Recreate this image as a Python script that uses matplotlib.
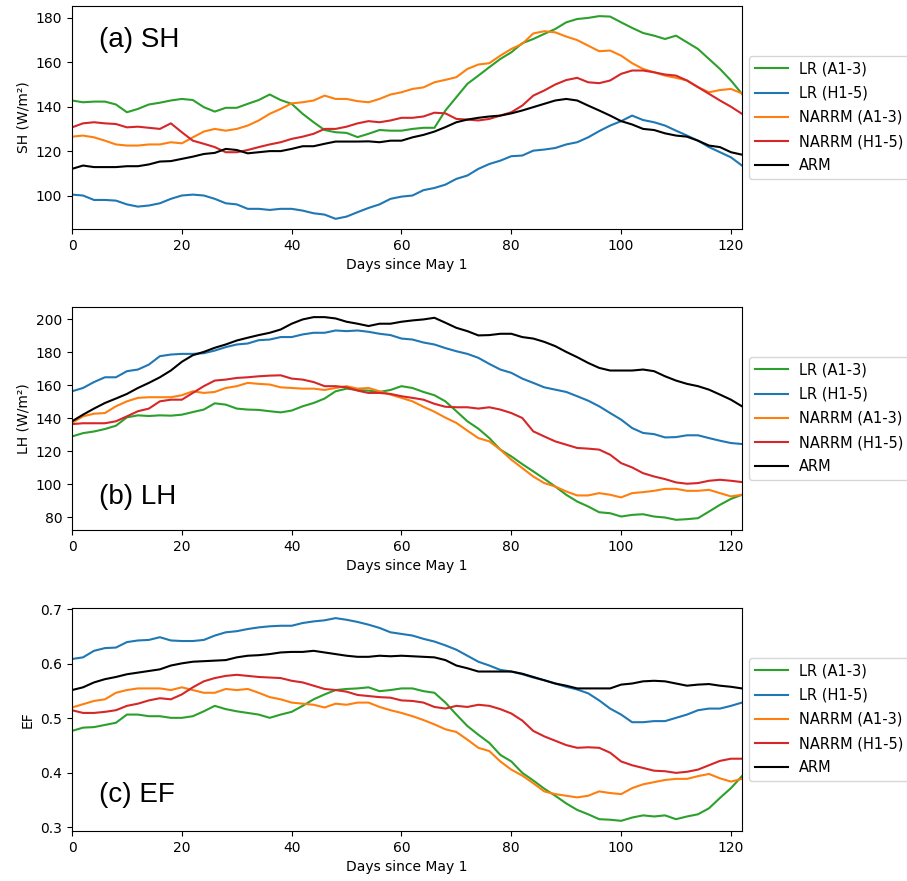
"""
Ciclo estacional de SH, LH y EF (días desde el 1 de mayo).
"""
import numpy as np
import matplotlib
matplotlib.use("Agg")
import matplotlib.pyplot as plt

# Días (cada 2 días, 0..122)
dias = np.arange(0, 123, 2)

etiquetas = ["LR (A1-3)", "LR (H1-5)", "NARRM (A1-3)", "NARRM (H1-5)", "ARM"]
colores = ["#2ca02c", "#1f77b4", "#ff7f0e", "#d62728", "black"]

# (a) SH (W/m²)
sh_lr_a = [142.8, 142, 142.3, 142.3, 141, 137.5, 139, 141, 141.8, 142.8, 143.5, 143,
           139.8, 137.8, 139.5, 139.5, 141.3, 143, 145.5, 143, 141.3, 136.8, 133, 129.5,
           128.5, 128.2, 126.3, 127.8, 129.5, 129.2, 129.2, 130, 130.5, 130.5, 138.3, 144.3,
           150.3, 154, 157.8, 161.5, 164.5, 168.6, 170.5, 172.8, 175, 178, 179.5, 180,
           180.8, 180.6, 178, 175.5, 173.2, 172, 170.5, 172, 169, 166, 161.5, 157,
           151.8, 145.8]
sh_lr_h = [100.4, 100, 98, 98, 97.7, 96, 95, 95.5, 96.5, 98.5, 100, 100.4,
           100, 98.5, 96.5, 96, 94, 94, 93.5, 94, 94, 93.2, 92, 91.4,
           89.5, 90.5, 92.5, 94.4, 96, 98.5, 99.5, 100, 102.4, 103.4, 104.9, 107.5,
           109, 112, 114.2, 115.7, 117.7, 118, 120.2, 120.7, 121.4, 123, 124, 126.2,
           129, 131.5, 133.5, 136, 134, 133, 131.5, 129.2, 127, 124.7, 121.8, 119.5,
           117.2, 113.5]
sh_narrm_a = [126.5, 127, 126.2, 124.7, 123, 122.5, 122.5, 123, 123, 124, 123.5, 126.2,
              128.8, 130, 129.2, 130, 131.5, 133.8, 136.8, 139, 141.5, 142, 142.8, 145,
              143.5, 143.5, 142.5, 142, 143.5, 145.5, 146.5, 148, 148.7, 151, 152.1, 153.3,
              157, 159, 159.6, 163, 166, 168.3, 173, 174, 173.5, 171.6, 170, 167.5,
              165, 165.3, 163, 159.6, 157, 155.5, 154, 153, 151.8, 148.8, 146.5, 147.5,
              148, 146]
sh_narrm_h = [130.7, 132.5, 133, 132.5, 132.2, 130.7, 131, 130.5, 130, 132.5, 128.5, 124.7,
              123.3, 121.8, 119.5, 119.5, 120.5, 121.8, 123, 124, 125.5, 126.5, 127.8, 130,
              130, 131, 132.5, 133.5, 133, 133.8, 135, 135, 135.6, 137.3, 137, 134.5,
              134.2, 133.8, 134.5, 136, 137.5, 140.5, 145, 147.3, 150, 152, 153, 151,
              150.6, 151.8, 154.8, 156.3, 156.3, 155.5, 154.5, 154, 151.8, 148.8, 145.8, 142.8,
              140, 136.8]
sh_arm = [112, 113.5, 112.8, 112.8, 112.8, 113.2, 113.2, 114, 115.3, 115.5, 116.5, 117.5,
          118.7, 119.2, 121, 120.5, 119, 119.5, 120, 120, 121, 122.2, 122.2, 123.3,
          124.3, 124.3, 124.3, 124.4, 124, 124.7, 124.7, 126.2, 127.3, 128.8, 130.8, 133,
          134.2, 135, 135.6, 136, 137, 138.3, 139.8, 141.3, 142.8, 143.5, 142.8, 140.5,
          138.3, 136, 133.5, 132, 130, 129.5, 128, 127, 126.5, 124.7, 122.5, 121.8,
          119.5, 118.4]

# (b) LH (W/m²)
lh_lr_a = [129, 131, 132, 133.5, 135.5, 140.6, 141.8, 141.4, 141.8, 141.6, 142.2, 143.8,
           145.3, 149.1, 148.3, 145.9, 145.3, 145.1, 144.3, 143.6, 144.7, 147.3, 149.3, 152,
           156.4, 158, 157.2, 156.8, 156, 157.2, 159.5, 158.4, 156, 154, 150.3, 144.3,
           138.2, 133.7, 128, 121, 116.9, 112.2, 107.8, 103.3, 98.6, 93.6, 89.5, 86.5,
           83, 82.4, 80.4, 81.4, 81.8, 80.4, 79.8, 78.4, 78.8, 79.4, 83.4, 87.5,
           91.1, 93.6]
lh_lr_h = [156.4, 158.4, 162, 164.9, 164.9, 168.6, 169.6, 172.6, 177.7, 178.7, 179.1, 179.1,
           179.5, 181.1, 183.2, 184.8, 185.4, 187.4, 187.8, 189.3, 189.3, 190.9, 191.9, 191.9,
           193.3, 192.9, 193.3, 192.5, 191.3, 190.5, 188.4, 187.8, 186, 184.8, 182.6, 180.7,
           179.1, 176.7, 173, 169.6, 167.6, 164.1, 161.5, 158.8, 157.4, 156, 153.4, 150.7,
           147.3, 143.2, 139.2, 134.1, 131.1, 130.4, 128.4, 128.6, 129.7, 129.7, 128, 126.4,
           125, 124.4]
lh_narrm_a = [137.2, 141.2, 142.8, 143.2, 147.3, 150.3, 152.4, 152.8, 152.8, 152.8, 154, 156.4,
              155.4, 156, 158.4, 159.5, 161.5, 160.9, 160.5, 158.8, 158.4, 158, 158, 157.2,
              158.4, 159.5, 158, 158.4, 156.4, 154.4, 152.4, 150.3, 147, 144, 140.4, 137.2,
              132.5, 128, 126, 121, 114.9, 109.8, 104.7, 100.7, 98.6, 95.6, 93.2, 93.2,
              94.6, 93.6, 92, 94.6, 95.2, 96, 97.2, 97.2, 96, 96, 96.6, 94.6,
              92.6, 93.6]
lh_narrm_h = [136.5, 137, 137, 137, 138.2, 141.2, 144.3, 145.9, 150.3, 151.3, 151.3, 155.4,
              159.5, 162.9, 163.5, 164.5, 164.9, 165.5, 165.9, 166.1, 164.1, 163.5, 162, 159.5,
              159.5, 158.8, 156.8, 155.4, 155.4, 154.8, 153.4, 152.4, 151.3, 148.8, 147, 146.7,
              146.7, 145.9, 146.7, 145.3, 143.2, 140.2, 132.1, 129, 126, 124, 122, 121.6,
              121, 117.9, 112.8, 110.2, 106.7, 104.7, 103.1, 101.1, 100.3, 100.7, 102.1, 102.7,
              102.1, 101.3]
lh_arm = [138.2, 142.2, 145.9, 149.3, 152, 154.8, 158.4, 161.5, 164.9, 169, 174.3, 178.3,
          180.3, 182.8, 184.8, 187.2, 188.9, 190.5, 191.9, 193.9, 197.4, 200, 201.4, 201.4,
          200.6, 198.6, 197.4, 196, 197.4, 197.4, 198.6, 199.4, 200, 201, 198, 194.9,
          192.9, 190.3, 190.5, 191.3, 191.3, 189.3, 188.4, 186.4, 183.8, 180.3, 177.1, 173.6,
          170.6, 169, 169, 169, 169.6, 168.6, 165.5, 162.9, 160.9, 159.5, 157.4, 154.4,
          151.3, 147.3]

# (c) EF
ef_lr_a = [0.477, 0.483, 0.484, 0.488, 0.492, 0.507, 0.507, 0.504, 0.504, 0.501, 0.501, 0.504,
           0.513, 0.523, 0.517, 0.513, 0.510, 0.507, 0.501, 0.507, 0.512, 0.523, 0.535, 0.544,
           0.552, 0.554, 0.555, 0.557, 0.550, 0.552, 0.555, 0.555, 0.550, 0.547, 0.529, 0.507,
           0.486, 0.470, 0.455, 0.433, 0.421, 0.400, 0.386, 0.371, 0.358, 0.344, 0.332, 0.324,
           0.315, 0.314, 0.312, 0.318, 0.322, 0.320, 0.322, 0.315, 0.320, 0.324, 0.335, 0.354,
           0.372, 0.394]
ef_lr_h = [0.609, 0.612, 0.624, 0.629, 0.630, 0.640, 0.643, 0.644, 0.649, 0.643, 0.642, 0.642,
           0.644, 0.652, 0.658, 0.660, 0.664, 0.667, 0.669, 0.670, 0.670, 0.675, 0.678, 0.680,
           0.684, 0.681, 0.677, 0.672, 0.666, 0.658, 0.655, 0.652, 0.646, 0.641, 0.634, 0.626,
           0.615, 0.604, 0.597, 0.589, 0.586, 0.581, 0.575, 0.570, 0.564, 0.558, 0.553, 0.546,
           0.533, 0.518, 0.507, 0.493, 0.493, 0.495, 0.495, 0.501, 0.507, 0.515, 0.518, 0.518,
           0.523, 0.529]
ef_narrm_a = [0.520, 0.526, 0.532, 0.535, 0.547, 0.552, 0.555, 0.555, 0.555, 0.552, 0.557, 0.552,
              0.547, 0.547, 0.554, 0.552, 0.554, 0.547, 0.539, 0.535, 0.529, 0.527, 0.525, 0.520,
              0.527, 0.525, 0.529, 0.529, 0.521, 0.515, 0.510, 0.504, 0.497, 0.489, 0.480, 0.475,
              0.461, 0.446, 0.440, 0.421, 0.406, 0.395, 0.381, 0.366, 0.361, 0.358, 0.355, 0.358,
              0.366, 0.363, 0.361, 0.372, 0.379, 0.383, 0.387, 0.389, 0.389, 0.394, 0.398, 0.390,
              0.384, 0.389]
ef_narrm_h = [0.515, 0.510, 0.510, 0.512, 0.515, 0.523, 0.527, 0.533, 0.537, 0.535, 0.544, 0.557,
              0.568, 0.574, 0.578, 0.580, 0.578, 0.576, 0.575, 0.574, 0.569, 0.566, 0.560, 0.554,
              0.552, 0.549, 0.543, 0.541, 0.539, 0.538, 0.533, 0.532, 0.529, 0.521, 0.518, 0.523,
              0.521, 0.525, 0.523, 0.517, 0.509, 0.496, 0.477, 0.467, 0.459, 0.451, 0.446, 0.447,
              0.446, 0.437, 0.421, 0.414, 0.409, 0.404, 0.403, 0.400, 0.402, 0.406, 0.414, 0.422,
              0.426, 0.426]
ef_arm = [0.552, 0.557, 0.566, 0.572, 0.576, 0.581, 0.584, 0.587, 0.590, 0.597, 0.601, 0.604,
          0.605, 0.606, 0.607, 0.612, 0.615, 0.616, 0.618, 0.621, 0.622, 0.622, 0.624, 0.621,
          0.618, 0.615, 0.613, 0.613, 0.615, 0.614, 0.615, 0.614, 0.613, 0.612, 0.607, 0.597,
          0.592, 0.586, 0.586, 0.586, 0.586, 0.582, 0.576, 0.570, 0.564, 0.560, 0.555, 0.555,
          0.555, 0.555, 0.562, 0.564, 0.568, 0.569, 0.568, 0.564, 0.560, 0.562, 0.563, 0.560,
          0.558, 0.555]

paneles = [
    ("(a) SH", "SH (W/m²)", [sh_lr_a, sh_lr_h, sh_narrm_a, sh_narrm_h, sh_arm], 0.815),
    ("(b) LH", "LH (W/m²)", [lh_lr_a, lh_lr_h, lh_narrm_a, lh_narrm_h, lh_arm], 0.118),
    ("(c) EF", "EF", [ef_lr_a, ef_lr_h, ef_narrm_a, ef_narrm_h, ef_arm], 0.129),
]

fig, axes = plt.subplots(3, 1, figsize=(9.07, 8.81), dpi=100)
fig.subplots_adjust(left=0.0794, right=0.818, top=0.9932, bottom=0.0568, hspace=0.35)

for ax, (titulo, ylab, series, ytxt) in zip(axes, paneles):
    for datos, lab, col in zip(series, etiquetas, colores):
        ax.plot(dias, datos, color=col, label=lab, linewidth=1.5)
    ax.set_xlim(0, 122)
    ax.set_xlabel("Days since May 1")
    ax.set_ylabel(ylab)
    # etiqueta del panel
    ax.text(0.04, ytxt, titulo, transform=ax.transAxes, fontsize=20,
            family="Liberation Sans", va="baseline", ha="left")
    ax.legend(loc="center left", bbox_to_anchor=(1.0, 0.5), fontsize=10.5,
              labelspacing=0.63, handlelength=2.26, handletextpad=0.75)

fig.savefig("out.png", dpi=100)
